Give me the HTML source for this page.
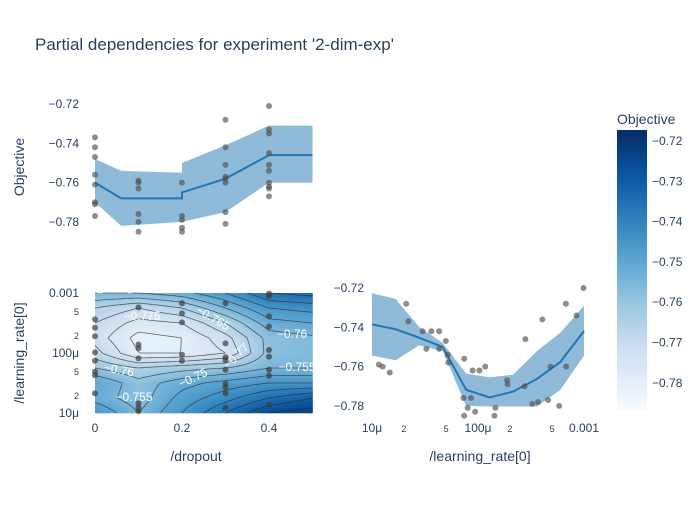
<!DOCTYPE html>
<html><head><meta charset="utf-8"><style>
body{margin:0;background:#fff;font-family:"Liberation Sans",sans-serif}
svg text{font-family:"Liberation Sans","DejaVu Sans",sans-serif;fill:#2a3f5f}
</style></head><body>
<svg id="c" width="700" height="500" xmlns="http://www.w3.org/2000/svg">
<rect width="700" height="500" fill="#fff"/>
<text x="35" y="50" font-size="17">Partial dependencies for experiment '2-dim-exp'</text>
<text transform="translate(24,167) rotate(-90)" text-anchor="middle" font-size="14">Objective</text>
<text transform="translate(24,353) rotate(-90)" text-anchor="middle" font-size="14">/learning_rate[0]</text>
<text x="196" y="461" text-anchor="middle" font-size="14">/dropout</text>
<text x="480" y="461" text-anchor="middle" font-size="14">/learning_rate[0]</text>
<text x="617" y="124" font-size="14">Objective</text>
<g id="g1"></g>
<g id="g2"></g>
<g id="g3"></g>
<g id="g4"></g>
</svg>
<script>
// ---- data: dropout partial dependence ----
const dropGrid=[0,0.06,0.2,0.2,0.3,0.4,0.5];
const dropMean=[-0.760,-0.768,-0.768,-0.765,-0.758,-0.746,-0.746];
const dropUpper=[-0.748,-0.754,-0.755,-0.750,-0.741,-0.731,-0.731];
const dropLower=[-0.770,-0.782,-0.780,-0.780,-0.775,-0.760,-0.760];
const dropPtsX=[0,0,0,0,0,0,0,0,0.1,0.1,0.1,0.1,0.1,0.1,0.2,0.2,0.2,0.2,0.2,0.3,0.3,0.3,0.3,0.3,0.3,0.3,0.3,0.4,0.4,0.4,0.4,0.4,0.4,0.4,0.4,0.4,0.4];
const dropPtsY=[-0.737,-0.742,-0.747,-0.756,-0.761,-0.770,-0.771,-0.777,-0.759,-0.760,-0.763,-0.776,-0.780,-0.785,-0.760,-0.777,-0.779,-0.783,-0.785,-0.728,-0.742,-0.751,-0.757,-0.758,-0.760,-0.775,-0.781,-0.721,-0.733,-0.735,-0.745,-0.751,-0.754,-0.760,-0.762,-0.763,-0.767];
const dropTicks=[-0.72,-0.74,-0.76,-0.78];
// ---- data: learning rate partial dependence ----
const lrGrid=[1e-5,1.67e-5,2.78e-5,4.64e-5,7.74e-5,1.29e-4,2.15e-4,3.59e-4,5.99e-4,1e-3];
const lrMean=[-0.7385,-0.741,-0.7453,-0.750,-0.7718,-0.7757,-0.7727,-0.7663,-0.7576,-0.7419];
const lrUpper=[-0.7226,-0.7256,-0.7398,-0.7479,-0.7636,-0.7655,-0.7641,-0.7521,-0.7427,-0.7291];
const lrLower=[-0.7544,-0.7568,-0.7492,-0.7521,-0.780,-0.7803,-0.7803,-0.7803,-0.7718,-0.7544];
const lrPtsX=[1.16e-5,1.26e-5,1.47e-5,2.1e-5,2.2e-5,3.0e-5,3.26e-5,3.63e-5,4.3e-5,4.3e-5,4.97e-5,5.2e-5,5.25e-5,7.4e-5,7.3e-5,8.0e-5,8.6e-5,8.9e-5,9.4e-5,1.03e-4,1.17e-4,7.4e-5,1.43e-4,1.46e-4,1.88e-4,1.9e-4,2.75e-4,2.8e-4,3.24e-4,3.68e-4,4.05e-4,4.58e-4,4.83e-4,5.83e-4,6.75e-4,6.8e-4,8.5e-4,9.9e-4];
const lrPtsY=[-0.759,-0.760,-0.763,-0.728,-0.737,-0.742,-0.751,-0.742,-0.742,-0.751,-0.747,-0.754,-0.758,-0.756,-0.776,-0.781,-0.776,-0.762,-0.783,-0.762,-0.760,-0.785,-0.785,-0.781,-0.767,-0.769,-0.770,-0.746,-0.779,-0.778,-0.736,-0.777,-0.760,-0.780,-0.728,-0.760,-0.734,-0.720];
// ---- data: heatmap ----
const heatDrop=[0,0.1,0.2,0.3,0.4,0.5];
const heatLogLr=[-3,-3.25,-3.5,-3.75,-4,-4.25,-4.5,-4.75,-5];
const heatZ=[
[-0.755,-0.755,-0.752,-0.745,-0.735,-0.733],
[-0.765,-0.770,-0.765,-0.755,-0.745,-0.743],
[-0.770,-0.777,-0.775,-0.765,-0.752,-0.750],
[-0.772,-0.782,-0.780,-0.772,-0.758,-0.756],
[-0.768,-0.780,-0.780,-0.775,-0.758,-0.756],
[-0.760,-0.765,-0.762,-0.760,-0.755,-0.755],
[-0.750,-0.758,-0.752,-0.748,-0.745,-0.745],
[-0.752,-0.758,-0.748,-0.742,-0.735,-0.730],
[-0.745,-0.755,-0.745,-0.735,-0.725,-0.722]];
const heatPtsX=[0,0,0,0,0,0,0,0,0.1,0.1,0.1,0.1,0.1,0.1,0.1,0.2,0.2,0.2,0.2,0.2,0.3,0.3,0.3,0.3,0.3,0.3,0.3,0.3,0.3,0.4,0.4,0.4,0.4,0.4,0.4,0.4,0.4,0.4];
const heatPtsLogLr=[-3.44,-3.58,-3.72,-3.99,-4.13,-4.31,-4.37,-4.67,-3.24,-3.86,-3.92,-4.09,-4.84,-4.91,-4.97,-3.17,-3.34,-3.49,-4.03,-4.13,-3.17,-3.84,-4.07,-4.12,-4.28,-4.51,-4.57,-4.67,-4.91,-3.01,-3.05,-3.39,-3.56,-3.95,-4.06,-4.28,-4.38,-4.86];
const contourLabels=["−0.775","−0.765","−0.76","−0.755","−0.76","−0.75","−0.755","−0.77"];
const cbTicks=[-0.72,-0.73,-0.74,-0.75,-0.76,-0.77,-0.78];

const NS="http://www.w3.org/2000/svg";
function mk(p,t,a){const e=document.createElementNS(NS,t);for(const k in a)e.setAttribute(k,a[k]);p.appendChild(e);return e;}
const fmt=v=>(v<0?"−":"")+Math.abs(v).toFixed(2);
// scales
const xDrop=v=>95+v*(312.5-95)/0.5;
const yTop=v=>104+(-0.72-v)/0.02*39.3;
const yHeat=l=>293+(-3-l)/2*120;
const xLr=v=>372+(Math.log10(v)+5)*106;
const yLr=v=>288+(-0.72-v)/0.02*39.3;
const cMin=-0.7865,cMax=-0.7185;
const stops=[[247,251,255],[222,235,247],[198,219,239],[158,202,225],[107,174,214],[66,146,198],[33,113,181],[8,81,156],[8,48,107]];
function col(v){let t=(v-cMin)/(cMax-cMin);t=Math.max(0,Math.min(1,t))*8;const i=Math.min(7,Math.floor(t)),f=t-i;const a=stops[i],b=stops[i+1];return`rgb(${a.map((x,k)=>Math.round(x+(b[k]-x)*f)).join(",")})`;}

function bandPlot(g,xs,mean,up,lo,xf,yf,px,py,ticks,name){
  let d="M"+xs.map((x,i)=>xf(x)+","+yf(up[i])).join("L");
  for(let i=xs.length-1;i>=0;i--)d+="L"+xf(xs[i])+","+yf(lo[i]);
  let e=mk(g,"path",{d:d+"Z",fill:"rgba(31,119,180,0.5)"});
  
  
  e=mk(g,"path",{d:"M"+xs.map((x,i)=>xf(x)+","+yf(mean[i])).join("L"),fill:"none",stroke:"#1f77b4","stroke-width":2});
  
  
  px.forEach((x,i)=>{const c=mk(g,"circle",{cx:xf(x),cy:yf(py[i]),r:3,fill:"rgba(80,80,80,0.65)"});
    
    });
}
const g1=document.getElementById("g1"),g2=document.getElementById("g2"),g3=document.getElementById("g3"),g4=document.getElementById("g4");
bandPlot(g1,dropGrid,dropMean,dropUpper,dropLower,xDrop,yTop,dropPtsX,dropPtsY,dropTicks,"dropout");
dropTicks.forEach(t=>{const e=mk(g1,"text",{x:79,y:yTop(t)+4,"text-anchor":"end","font-size":12});e.textContent=fmt(t);
  
  });
bandPlot(g3,lrGrid,lrMean,lrUpper,lrLower,xLr,yLr,lrPtsX,lrPtsY,dropTicks,"lr");
dropTicks.forEach(t=>{const e=mk(g3,"text",{x:364,y:yLr(t)+4,"text-anchor":"end","font-size":12});e.textContent=fmt(t);
  
  });
[["10μ",1e-5,12],["2",2e-5,9],["5",5e-5,9],["100μ",1e-4,12],["2",2e-4,9],["5",5e-4,9],["0.001",1e-3,12]].forEach(([s,v,f])=>{
  const e=mk(g3,"text",{x:xLr(v),y:432,"text-anchor":"middle","font-size":f});e.textContent=s;
  
  });

// heatmap via bilinear interp
function interp(d,l){
  let fx=d/0.1,fy=(-3-l)/0.25;fx=Math.max(0,Math.min(4.9999,fx));fy=Math.max(0,Math.min(7.9999,fy));
  const i=Math.floor(fx),j=Math.floor(fy),a=fx-i,b=fy-j;
  return heatZ[j][i]*(1-a)*(1-b)+heatZ[j][i+1]*a*(1-b)+heatZ[j+1][i]*(1-a)*b+heatZ[j+1][i+1]*a*b;
}
const NX=87,NY=48,x0=95,x1=312.5,y0=293,y1=413,cw=(x1-x0)/NX,ch=(y1-y0)/NY;
const hm=mk(g2,"g",{});


for(let j=0;j<NY;j++)for(let i=0;i<NX;i++){
  const d=(i+0.5)/NX*0.5,l=-3-(j+0.5)/NY*2;
  mk(hm,"rect",{x:(x0+i*cw).toFixed(2),y:(y0+j*ch).toFixed(2),width:(cw+0.3).toFixed(2),height:(ch+0.3).toFixed(2),fill:col(interp(d,l))});
}
// contours (marching squares)
const G=[];for(let j=0;j<=NY;j++){G.push([]);for(let i=0;i<=NX;i++)G[j].push(interp(i/NX*0.5,-3-j/NY*2));}
let cd="";
for(let lv=-0.785;lv<=-0.72;lv+=0.005){
  for(let j=0;j<NY;j++)for(let i=0;i<NX;i++){
    const c=[[i,j],[i+1,j],[i+1,j+1],[i,j+1]],pts=[];
    for(let k=0;k<4;k++){const p=c[k],q=c[(k+1)%4];const va=G[p[1]][p[0]]-lv,vb=G[q[1]][q[0]]-lv;
      if((va<0)!==(vb<0)){const t=va/(va-vb);pts.push([x0+(p[0]+(q[0]-p[0])*t)*cw,y0+(p[1]+(q[1]-p[1])*t)*ch]);}}
    for(let k=0;k+1<pts.length;k+=2)cd+=`M${pts[k][0].toFixed(1)},${pts[k][1].toFixed(1)}L${pts[k+1][0].toFixed(1)},${pts[k+1][1].toFixed(1)}`;
  }
}
const cl=mk(g2,"path",{d:cd,stroke:"rgba(40,40,40,0.7)","stroke-width":0.8,fill:"none"});


const labPos=[[142,320,0],[213,322,30],[292,338,0],[297,371,0],[119,374,10],[193,382,-25],[134,401,0],[236,360,-45]];
contourLabels.forEach((s,i)=>{const [x,y,r]=labPos[i];const e=mk(g2,"text",{x:x,y:y,"text-anchor":"middle","font-size":12,style:"fill:#fff",transform:`rotate(${r},${x},${y-4})`});e.textContent=s;
  
  });
heatPtsX.forEach((x,i)=>{const c=mk(g2,"circle",{cx:xDrop(x),cy:yHeat(heatPtsLogLr[i]),r:3,fill:"rgba(60,60,60,0.7)"});
  
  });
[["0.001",-3,12],["5",-3.301,9],["2",-3.699,9],["100μ",-4,12],["5",-4.301,9],["2",-4.699,9],["10μ",-5,12]].forEach(([s,l,f])=>{
  const e=mk(g2,"text",{x:79,y:yHeat(l)+4,"text-anchor":"end","font-size":f});e.textContent=s;
  
  });
[0,0.2,0.4].forEach(v=>{const e=mk(g2,"text",{x:xDrop(v),y:432,"text-anchor":"middle","font-size":12});e.textContent=v===0?"0":v.toFixed(1);
  
  });

// colorbar
const yCb=v=>141+(-0.72-v)/0.01*40.3;
for(let y=130;y<410;y+=2){const v=-0.72-(y+1-141)/40.3*0.01;mk(g4,"rect",{x:617,y:y,width:30,height:2.3,fill:col(v)});}
cbTicks.forEach(t=>{const e=mk(g4,"text",{x:652,y:yCb(t)+4,"font-size":12});e.textContent=fmt(t);
  
  });
</script>
</body></html>
